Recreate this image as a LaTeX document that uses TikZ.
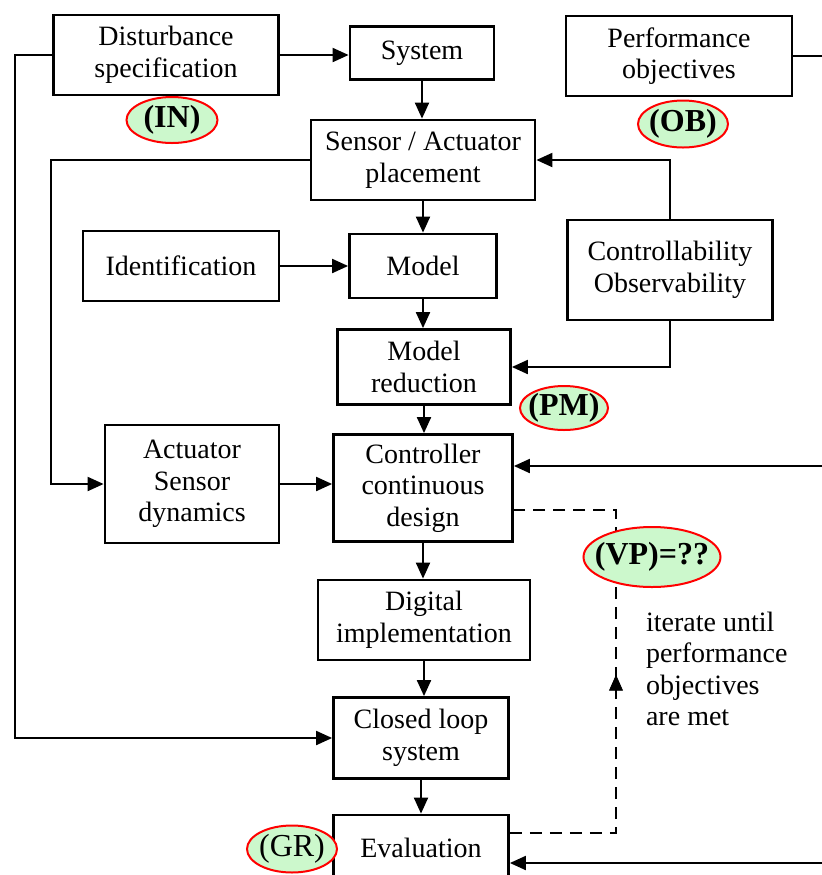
\documentclass[tikz,border=0pt]{standalone}
\usepackage{fontspec}
\setmainfont{Liberation Serif}
\usetikzlibrary{arrows.meta,shapes.geometric,decorations.markings}
\definecolor{tagfill}{RGB}{204,248,204}

\begin{document}
\begin{tikzpicture}[x=0.5pt, y=-0.5pt,
  every node/.style = {font=\fontsize{14}{15.75}\selectfont},
  block/.style = {shape=rectangle, draw, line width=1.4pt, align=center, inner sep=2pt},
  tag/.style = {shape=ellipse, draw=red, line width=1pt, fill=tagfill,
    inner xsep=-5pt, inner ysep=0pt, font=\fontsize{16}{18}\selectfont\bfseries},
  wire/.style = {draw, line width=1pt},
  conn/.style = {wire, -{Triangle[length=8pt,width=7pt]}},
  loopline/.style = {wire, dash pattern=on 6pt off 4pt}]

% Page frame
\useasboundingbox (0,0) rectangle (822,875);
\clip (0,0) rectangle (822,875);

% Blocks
\node[block, minimum width=112.5pt, minimum height=40pt] (dist) at (166,55) {Disturbance\\specification};
\node[block, minimum width=72pt, minimum height=26.5pt] (sys) at (422,53) {System};
\node[block, minimum width=113pt, minimum height=40pt] (perf) at (679,56) {Performance\\objectives};
\node[block, minimum width=112pt, minimum height=40pt] (place) at (423,160) {Sensor / Actuator\\placement};
\node[block, minimum width=98pt, minimum height=35pt] (ident) at (181,266) {Identification};
\node[block, minimum width=73.5pt, minimum height=32pt] (model) at (423,266) {Model};
\node[block, minimum width=102.5pt, minimum height=50pt] (ctrb) at (670,270) {Controllability\\Observability};
\node[block, minimum width=86.5pt, minimum height=37.5pt] (reduc) at (424,367) {Model\\reduction};
\node[block, minimum width=87pt, minimum height=59pt] (actdyn) at (192,484) {Actuator\\Sensor\\dynamics};
\node[block, minimum width=89.5pt, minimum height=53.5pt] (design) at (423,488) {Controller\\continuous\\design};
\node[block, minimum width=106pt, minimum height=40pt] (digital) at (424,620) {Digital\\implementation};
\node[block, minimum width=87.5pt, minimum height=40.5pt] (closed) at (421,738) {Closed loop\\system};
\node[block, minimum width=87.5pt, minimum height=33pt] (eval) at (421,848) {Evaluation};

% Free ends of the loops
\coordinate (inner) at (51,0);
\coordinate (outer) at (15,0);
\coordinate (fbtop) at (822,466);
\coordinate (fbbot) at (822,863);
\coordinate (iterbot) at (616,833);
\coordinate (itertop) at (616,510);

% Main chain
\draw[conn] (dist.east) -- (dist.east -| sys.west);
\draw[conn] (sys.south) -- (sys.south |- place.north);
\draw[conn] (place.south) -- (place.south |- model.north);
\draw[conn] (ident.east) -- (ident.east -| model.west);
\draw[conn] (model.south) -- (model.south |- reduc.north);
\draw[conn] (reduc.south) -- (reduc.south |- design.north);
\draw[conn] (actdyn.east) -- (actdyn.east -| design.west);
\draw[conn] (design.south) -- (design.south |- digital.north);
\draw[conn] (digital.south) -- (digital.south |- closed.north);
\draw[conn] (closed.south) -- (closed.south |- eval.north);

% Loops
\draw[conn] (place.west) -- (place.west -| inner) |- (actdyn.west);
\draw[conn] (dist.west) -- (dist.west -| outer) |- (closed.west);
\draw[conn] (ctrb.north) |- (place.east);
\draw[conn] (ctrb.south) |- (reduc.east);
\draw[wire] (perf.east) -- (perf.east -| fbtop);
\draw[conn] (fbtop) -- (fbtop -| design.east);
\draw[conn] (fbbot) -- (fbbot -| eval.east);

% Iteration loop
\draw[loopline] (iterbot -| eval.east) -- (iterbot) -- (itertop) -- (itertop -| design.east);
\path[postaction={decorate}, decoration={markings,
  mark=at position 0.49 with {\arrow{Triangle[length=8pt,width=7pt]}}}] (iterbot) -- (itertop);
\node[align=left, anchor=west] (note) at (639,669) {iterate until\\performance\\objectives\\are met};

% Tags
\node[tag, minimum width=45.5pt, minimum height=23pt] (tagin) at (172,120) {(IN)};
\node[tag, minimum width=45pt, minimum height=23.5pt] (tagob) at (683,124) {(OB)};
\node[tag, minimum width=44pt, minimum height=22pt] (tagpm) at (564,408) {(PM)};
\node[tag, minimum width=68.5pt, minimum height=30pt] (tagvp) at (652,557) {(VP)=??};
\node[tag, font=\fontsize{16}{18}\selectfont, minimum width=45pt, minimum height=23.5pt] (taggr) at (292,849) {(GR)};
\end{tikzpicture}
\end{document}
